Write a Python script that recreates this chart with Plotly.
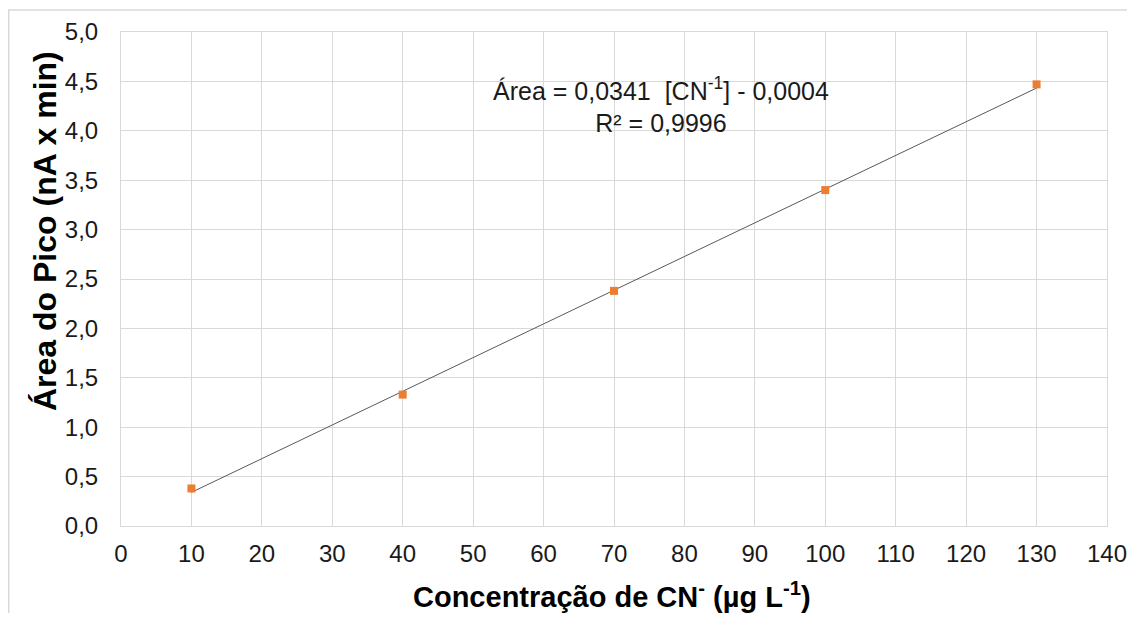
import plotly.graph_objects as go

conc = [10, 40, 70, 100, 130]
area = [0.38, 1.33, 2.38, 3.40, 4.47]
slope = 0.0341
intercept = -0.0004
fit_x = [10, 130]
fit_y = [slope * x + intercept for x in fit_x]

# page body has an 8px margin, so the figure is offset by 8px
W, H = 1119, 605
L, R, T, B = 113, 20, 24, 87
pw, ph = W - L - R, H - T - B

fig = go.Figure()
fig.add_trace(go.Scatter(x=fit_x, y=fit_y, mode="lines",
                         line=dict(color="#595959", width=1), showlegend=False, hoverinfo="skip"))
fig.add_trace(go.Scatter(x=conc, y=area, mode="markers",
                         marker=dict(symbol="square", size=8, color="#ED7D31"), showlegend=False))

font = "Liberation Sans, Arial, sans-serif"
fig.update_layout(
    width=W, height=H, margin=dict(l=L, r=R, t=T, b=B, autoexpand=False),
    paper_bgcolor="white", plot_bgcolor="white",
    separators=",.",
    font=dict(family=font, color="#000000", size=24),
    xaxis=dict(range=[0, 140], dtick=10, tick0=0, showgrid=True, gridcolor="#D9D9D9", gridwidth=1,
               zeroline=False, showline=True, linecolor="#D9D9D9", mirror=True,
               ticks="", tickfont=dict(size=24, color="#1a1a1a"), ticklabelstandoff=6,
               ticklabeloverflow="allow", automargin=False),
    yaxis=dict(range=[0, 5], dtick=0.5, tick0=0, tickformat=".1f", showgrid=True, gridcolor="#D9D9D9",
               gridwidth=1, zeroline=False, showline=True, linecolor="#D9D9D9", mirror=True,
               ticks="", tickfont=dict(size=24, color="#1a1a1a"), ticklabelstandoff=17,
               ticklabeloverflow="allow", automargin=False),
)

# x-axis title
fig.add_annotation(xref="paper", yref="paper", x=(612 - 121) / 986, y=-(595 - 526) / 494,
                   xanchor="center", yanchor="middle", showarrow=False,
                   text="<b>Concentração de CN<sup>-</sup> (µg L<sup>-1</sup>)</b>",
                   font=dict(size=29, color="#000000"))

# y-axis title (placed slightly above the axis centre, as in the reference)
fig.add_annotation(xref="paper", yref="paper", x=(45 - 121) / 986, y=(526 - 231) / 494,
                   xanchor="center", yanchor="middle", textangle=-90, showarrow=False,
                   text="<b>Área do Pico (nA x min)</b>", font=dict(size=32, color="#000000"))

fig.add_annotation(xref="x", yref="y", x=76.7, y=4.26, xanchor="center", yanchor="middle",
                   text="Área = 0,0341  [CN<sup>-1</sup>] - 0,0004<br>R² = 0,9996",
                   showarrow=False, font=dict(size=25, color="#1a1a1a"), align="center")

# outer chart border
fig.add_shape(type="rect", xref="paper", yref="paper",
              x0=(0.75 - L) / pw, x1=(W + 20 - L) / pw,
              y0=-(H + 20 - T - ph) / ph, y1=1 + (T - 2) / ph,
              line=dict(color="#D9D9D9", width=1.5), fillcolor="rgba(0,0,0,0)", layer="below")

fig.write_html("out.html")
